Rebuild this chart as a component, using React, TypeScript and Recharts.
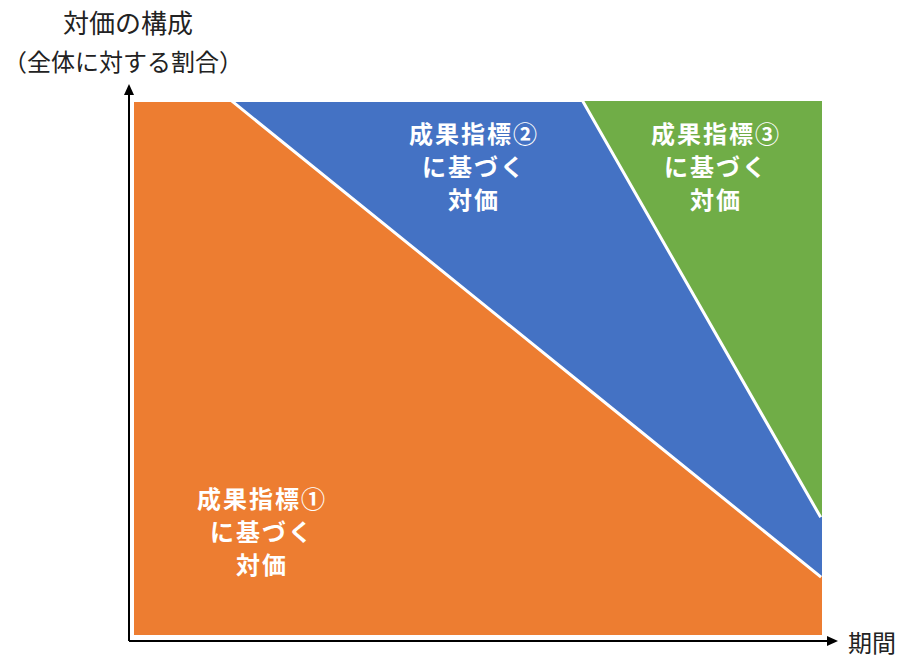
import React from 'react';
import { AreaChart, Area, XAxis, YAxis } from 'recharts';

// 期間 (0–100) and the share of each component at that point, in %
const periods = [0, 14.2, 65.3, 100];
const share1 = [100, 100, 47, 11];
const share2 = [0, 0, 53, 11.1];
const share3 = [0, 0, 0, 77.9];

const data = periods.map((p, i) => ({
  period: p,
  kpi1: share1[i],
  kpi2: share2[i],
  kpi3: share3[i],
}));

const FONT = '"Noto Sans CJK JP", "Noto Sans", sans-serif';
const W = 907;
const H = 657;
const M = { top: 99, right: 85, bottom: 16, left: 129 };

const areaLabels = [
  { x: 262, y: 497, lines: ['成果指標①', 'に基づく', '対価'] },
  { x: 474, y: 132, lines: ['成果指標②', 'に基づく', '対価'] },
  { x: 716, y: 132, lines: ['成果指標③', 'に基づく', '対価'] },
];

// axes with arrowheads + axis titles
const Axes = () => {
  const x0 = M.left;
  const y0 = H - M.bottom;
  return (
    <g>
      <line x1={x0} y1={y0} x2={W - M.right + 6} y2={y0} stroke="#000" strokeWidth={2} />
      <path d={`M${W - M.right + 16},${y0} L${W - M.right + 5},${y0 - 5} L${W - M.right + 5},${y0 + 5} z`} fill="#000" />
      <line x1={x0} y1={y0} x2={x0} y2={M.top - 5} stroke="#000" strokeWidth={2} />
      <path d={`M${x0},${M.top - 15} L${x0 - 5},${M.top - 4} L${x0 + 5},${M.top - 4} z`} fill="#000" />
      <text x={128} y={21} textAnchor="middle" dominantBaseline="central" fontSize={26} fill="#222" fontFamily={FONT}>対価の構成</text>
      <text x={123} y={60} textAnchor="middle" dominantBaseline="central" fontSize={24} fill="#222" fontFamily={FONT}>（全体に対する割合）</text>
      <text x={848} y={641} dominantBaseline="central" fontSize={24} fill="#222" fontFamily={FONT}>期間</text>
    </g>
  );
};

export default function App() {
  return (
    <div style={{ position: 'absolute', left: 0, top: 0, width: W, height: H, background: '#fff' }}>
      <AreaChart width={W} height={H} data={data} margin={M}>
        <XAxis dataKey="period" type="number" domain={[0, 100]} height={0} hide padding={{ left: 5, right: 0 }} />
        <YAxis type="number" domain={[0, 100]} width={0} hide padding={{ top: 0, bottom: 6 }} />
        <Area type="linear" dataKey="kpi1" stackId="a" fill="#ED7D31" fillOpacity={1} stroke="#fff" strokeWidth={6} isAnimationActive={false} />
        <Area type="linear" dataKey="kpi2" stackId="a" fill="#4472C4" fillOpacity={1} stroke="#fff" strokeWidth={6} isAnimationActive={false} />
        <Area type="linear" dataKey="kpi3" stackId="a" fill="#70AD47" fillOpacity={1} stroke="#fff" strokeWidth={4} isAnimationActive={false} />
        <Axes />
      </AreaChart>
      {/* area labels sit above the filled areas */}
      <svg width={W} height={H} style={{ position: 'absolute', left: 0, top: 0, pointerEvents: 'none' }}>
        {areaLabels.map((l, i) => (
          <g key={i}>
            {l.lines.map((t, j) => (
              <text key={j} x={l.x} y={l.y + j * 33} textAnchor="middle" dominantBaseline="central"
                fontSize={24} fontWeight="bold" fill="#fff" letterSpacing={2} fontFamily={FONT}>{t}</text>
            ))}
          </g>
        ))}
      </svg>
    </div>
  );
}
